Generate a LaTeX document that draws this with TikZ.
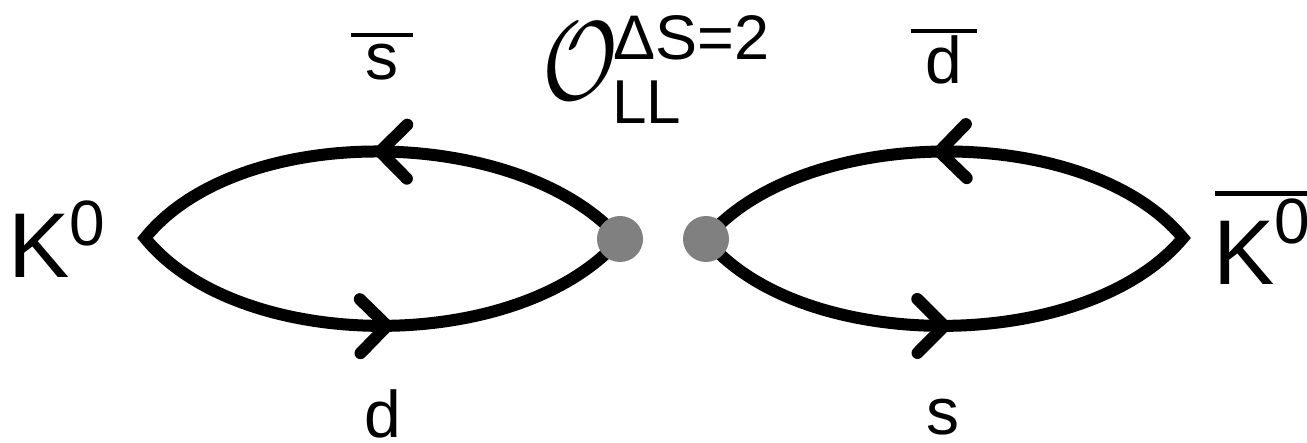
\documentclass[tikz,border=0pt]{standalone}
\usepackage{amsmath}
\usepackage{fontspec}
\setmainfont{Liberation Sans}
\usetikzlibrary{decorations.markings}
\newcommand\qchev{\draw[line width=12pt,line cap=round,line join=round] (-27pt,27pt)--(0pt,0pt)--(-27pt,-27pt);}
\newcommand\supzero[1]{\raisebox{#1}{\fontsize{64}{64}\selectfont 0}}
\begin{document}
\begin{tikzpicture}[x=1pt,y=-1pt,
  quark/.style 2 args={line width=12pt, line join=miter, postaction=decorate,
    decoration={markings, mark=at position #1 with {\qchev}, mark=at position #2 with {\qchev}}},
  dot/.style={circle, fill=gray, minimum size=46pt, inner sep=0pt},
  meson/.style={inner sep=0pt, anchor=base west, font=\fontsize{92}{92}\selectfont},
  qlab/.style={inner sep=0pt, anchor=base, font=\fontsize{66}{66}\selectfont},
  qbar/.style={line width=4pt},
  oplab/.style={inner sep=0pt, anchor=base west}]
\useasboundingbox (0,0) rectangle (1307,443);
% vertices
\coordinate (tL) at (145,238);
\coordinate (vL) at (620,239);
\coordinate (vR) at (706,239);
\coordinate (tR) at (1183,238);
% quark loops
\draw[quark={0.255}{0.752}] (tL) .. controls (240,355) and (520,355) .. (vL)
  .. controls (520,125) and (240,120) .. cycle;
\draw[quark={0.25}{0.755}] (vR) .. controls (800,355) and (1085,355) .. (tR)
  .. controls (1085,120) and (800,125) .. cycle;
% operator insertions
\node[dot] (dL) at (vL) {};
\node[dot] (dR) at (vR) {};
% meson labels
\node[meson] (K0) at (8,278) {K\supzero{32pt}};
\node[meson] (K0bar) at (1213,285) {K\supzero{41pt}};
\draw[line width=5pt] ([xshift=2pt,yshift=6pt]K0bar.north west) -- ([xshift=30pt,yshift=6pt]K0bar.north east);
% quark labels
\node[qlab] (sbar) at (382,80) {s};
\draw[qbar] ([xshift=-14pt,yshift=9pt]sbar.north west) -- ([xshift=14pt,yshift=9pt]sbar.north east);
\node[qlab] (dbar) at (944,84) {d};
\draw[qbar] ([xshift=-14pt,yshift=5pt]dbar.north west) -- ([xshift=14pt,yshift=5pt]dbar.north east);
\node[qlab] (dq) at (383,438) {d};
\node[qlab] (sq) at (943,435) {s};
% operator label
\node[oplab] (Op) at (542,100) {\scalebox{9.2}[11.2]{$\mathcal{O}$}};
\node[oplab, font=\fontsize{63}{63}\selectfont] (Osup) at (613,60) {ΔS=2};
\node[oplab, font=\fontsize{62}{62}\selectfont] (Osub) at (612,124) {LL};
\end{tikzpicture}
\end{document}
